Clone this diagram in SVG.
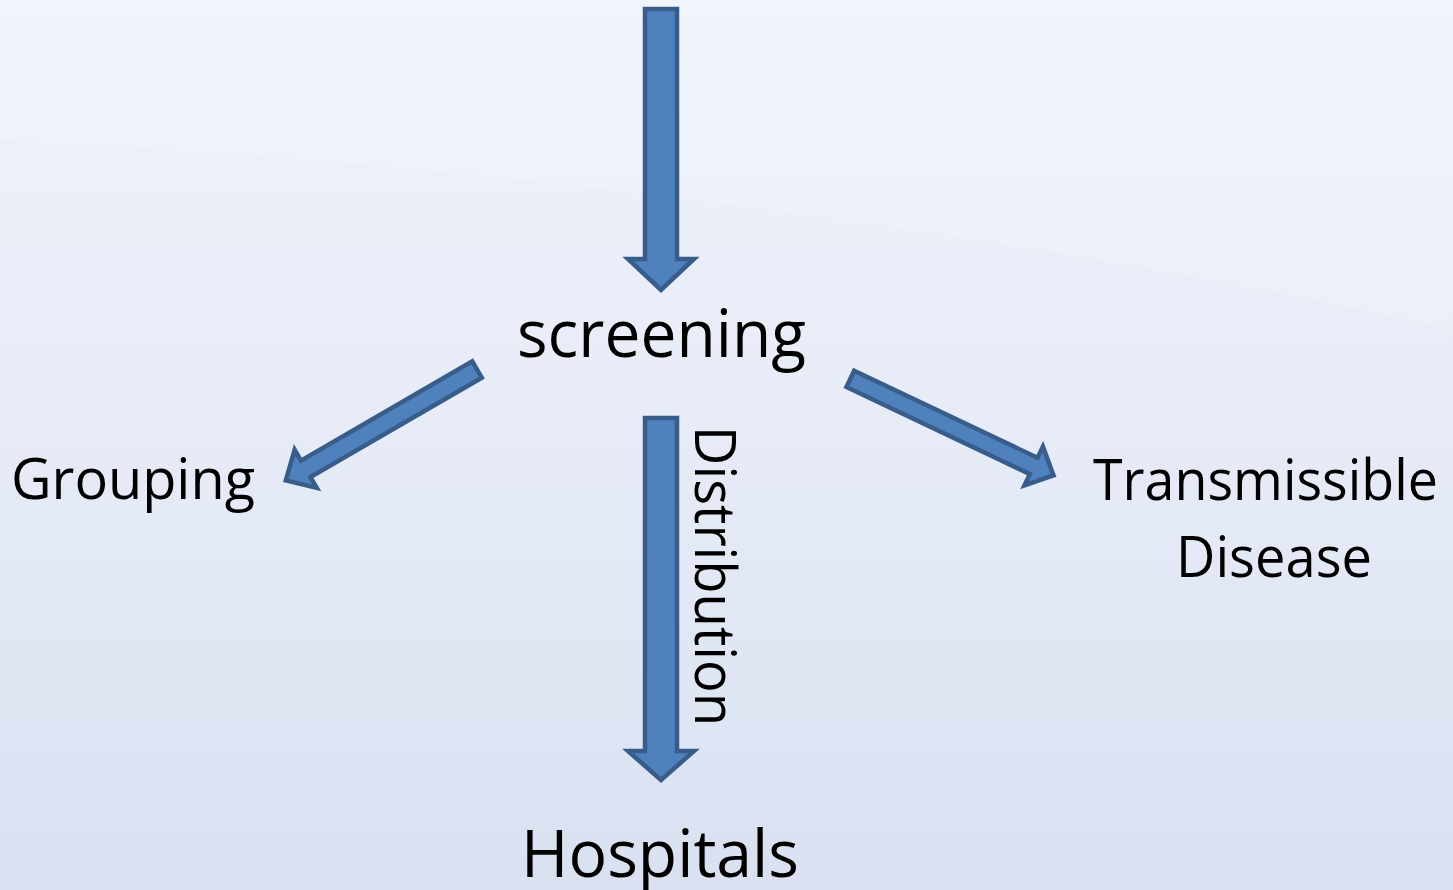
<svg xmlns="http://www.w3.org/2000/svg" width="1453" height="890" viewBox="0 0 1453 890">
  <defs>
    <linearGradient id="bg" x1="0" y1="0" x2="0" y2="1">
      <stop offset="0" stop-color="#EFF2FA"/>
      <stop offset="0.45" stop-color="#E7ECF7"/>
      <stop offset="1" stop-color="#D9E1F1"/>
    </linearGradient>
    <style>
      .arrow { fill: #4F81BD; stroke: #385D8A; stroke-width: 4.5; stroke-linejoin: miter; }
      .label { font-family: "Open Sans", "Liberation Sans", sans-serif; fill: #000000; }
      .big { font-size: 66px; }
      .mid { font-size: 57px; }
    </style>
  </defs>

  <!-- backdrop -->
  <rect x="0" y="0" width="1453" height="890" fill="url(#bg)"/>
  <path d="M0,0 H1453 V330 C1100,250 600,170 0,140 Z" fill="#FFFFFF" opacity="0.15"/>

  <!-- connectors -->
  <g id="connectors">
    <polygon id="arrow-in" class="arrow" points="645,9 677,9 677,259 694,259 661,290 628,259 645,259"/>
    <polygon id="arrow-distribution" class="arrow" points="645,418 677,418 677,751 694,751 661,780 628,751 645,751"/>
    <g id="arrow-grouping" transform="translate(477,369.5) rotate(149.9)">
      <polygon class="arrow" points="0,-9.5 198,-9.5 198,-22 221,0 198,22 198,9.5 0,9.5"/>
    </g>
    <g id="arrow-transmissible" transform="translate(850.3,378.9) rotate(25.4)">
      <polygon class="arrow" points="0,-9 203,-9 203,-21.5 225,0 203,21.5 203,9 0,9"/>
    </g>
    <text id="label-distribution" class="label mid" transform="translate(695,426) rotate(90)" x="0" y="0" textLength="300" lengthAdjust="spacingAndGlyphs">Distribution</text>
  </g>

  <g id="node-screening">
    <text class="label big" x="517" y="357" textLength="289" lengthAdjust="spacingAndGlyphs">screening</text>
  </g>

  <g id="node-grouping">
    <text class="label mid" x="11" y="499" textLength="244" lengthAdjust="spacingAndGlyphs">Grouping</text>
  </g>

  <g id="node-transmissible-disease">
    <text class="label mid" x="1093" y="500" textLength="345" lengthAdjust="spacingAndGlyphs">Transmissible</text>
    <text class="label mid" x="1176" y="577" textLength="196" lengthAdjust="spacingAndGlyphs">Disease</text>
  </g>

  <g id="node-hospitals">
    <text class="label big" x="521" y="877" textLength="278" lengthAdjust="spacingAndGlyphs">Hospitals</text>
  </g>
</svg>
